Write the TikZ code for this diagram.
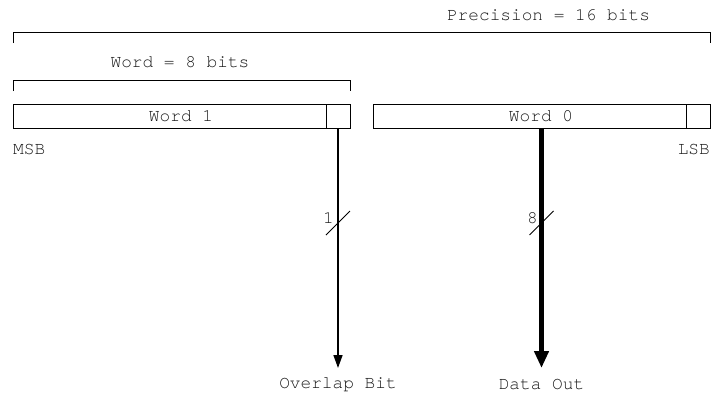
\documentclass[tikz,border=0pt]{standalone}
\usepackage{fontspec}
\setmonofont{texgyrecursor-regular.otf}
\usetikzlibrary{arrows.meta}

\tikzset{
  lbl/.style={font=\ttfamily\fontsize{17.8}{20}\selectfont, text=black!90, inner sep=0pt},
  wordbox/.style={draw, line width=1pt, minimum width=337pt, minimum height=24pt, inner sep=0pt, font=\ttfamily\fontsize{17.8}{20}\selectfont, text=black!90},
  bitbox/.style={draw, line width=1pt, minimum width=24pt, minimum height=24pt, inner sep=0pt},
  bracket/.style={line width=1pt},
  thinbus/.style={line width=1.6pt, -{Triangle[length=13pt, width=9pt]}},
  thickbus/.style={line width=4.5pt, -{Triangle[length=17pt, width=14pt]}},
  slash/.style={line width=1pt},
}

\begin{document}
\begin{tikzpicture}[x=1pt, y=-1pt]
  \useasboundingbox (0,0) rectangle (717,397);

  % overall precision bracket
  \draw[bracket] (13,43) -- (13,32) -- (710,32) -- (710,43);
  \node[lbl] (prec) at (548.5,15) {Precision = 16 bits};

  % single-word bracket
  \draw[bracket] (13,91) -- (13,80) -- (350,80) -- (350,91);
  \node[lbl] (wlen) at (180,62) {Word = 8 bits};

  % the two words, each with its low bit cell
  \node[wordbox] (w1) at (181.5,116) {\hspace*{-1pt}Word 1};
  \node[bitbox, anchor=east] (b1) at (w1.east) {};
  \node[wordbox] (w0) at (541.5,116) {\hspace*{-1pt}Word 0};
  \node[bitbox, anchor=east] (b0) at (w0.east) {};

  \node[lbl, anchor=west] (msb) at (13,150) {MSB};
  \node[lbl, anchor=east] (lsb) at (710,150) {LSB};

  % outputs
  \node[lbl] (ovl) at (338,385) {Overlap Bit};
  \node[lbl] (dout) at (541.5,385) {Data Out};

  \coordinate (ovltip) at (338,368);
  \coordinate (douttip) at (541.5,368);
  \draw[thinbus] (b1.south) -- (ovltip);
  \draw[thickbus] (w0.south) -- (douttip);

  % bus width marks
  \draw[slash] (326,235) -- (350,211);
  \node[lbl, anchor=east] (n1) at (334,218) {1};
  \draw[slash] (529.5,235) -- (553.5,211);
  \node[lbl, anchor=east] (n8) at (538,218) {8};
\end{tikzpicture}
\end{document}
